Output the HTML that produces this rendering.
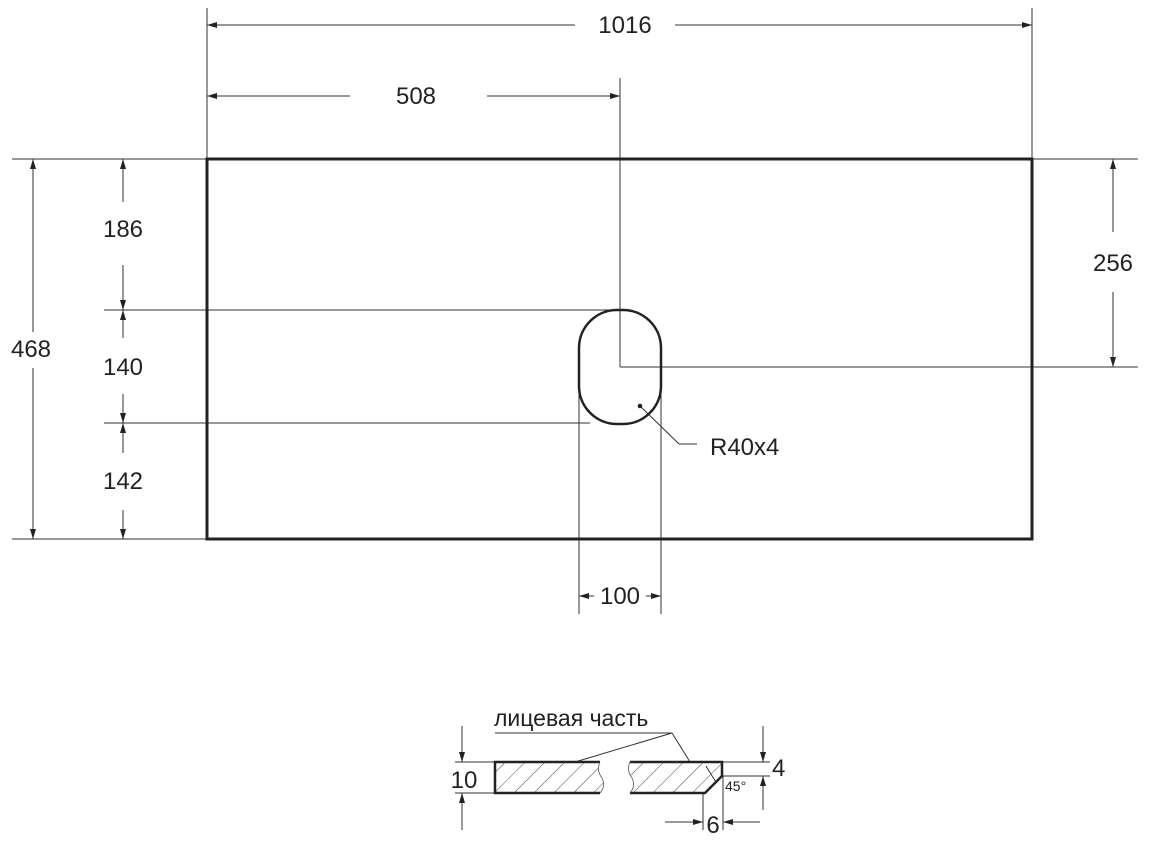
<!DOCTYPE html>
<html><head><meta charset="utf-8"><style>
html,body{margin:0;padding:0;background:#fff}
svg{display:block}
text{font-family:"Liberation Sans",sans-serif;fill:#222}
</style></head><body>
<svg width="1156" height="841" viewBox="0 0 1156 841" xmlns="http://www.w3.org/2000/svg">
<defs>
<marker id="a" viewBox="0 0 10 6" refX="10" refY="3" markerWidth="10" markerHeight="6" markerUnits="userSpaceOnUse" orient="auto-start-reverse"><path d="M0,0L10,3L0,6z" fill="#222"/></marker>
<pattern id="h" patternUnits="userSpaceOnUse" width="14" height="14" patternTransform="rotate(45)"><line x1="0" y1="0" x2="0" y2="14" stroke="#444" stroke-width="1"/></pattern>
</defs>
<g stroke="#333" stroke-width="1" fill="none">
<line x1="207" y1="8" x2="207" y2="159"/>
<line x1="1032" y1="8" x2="1032" y2="159"/>
<line x1="620" y1="78" x2="620" y2="367"/>
<line x1="620" y1="367" x2="1138" y2="367"/>
<line x1="1032" y1="159" x2="1138" y2="159"/>
<line x1="12" y1="159" x2="207" y2="159"/>
<line x1="12" y1="539" x2="207" y2="539"/>
<line x1="104" y1="310" x2="620" y2="310"/>
<line x1="104" y1="423" x2="590" y2="423"/>
<line x1="579" y1="380" x2="579" y2="614"/>
<line x1="661" y1="380" x2="661" y2="614"/>
<line x1="207" y1="25" x2="575" y2="25" marker-start="url(#a)"/>
<line x1="675" y1="25" x2="1032" y2="25" marker-end="url(#a)"/>
<line x1="207" y1="96" x2="350" y2="96" marker-start="url(#a)"/>
<line x1="487" y1="96" x2="620" y2="96" marker-end="url(#a)"/>
<line x1="33" y1="159" x2="33" y2="332" marker-start="url(#a)"/>
<line x1="33" y1="368" x2="33" y2="539" marker-end="url(#a)"/>
<line x1="123" y1="159" x2="123" y2="202" marker-start="url(#a)"/>
<line x1="123" y1="265" x2="123" y2="310" marker-end="url(#a)"/>
<line x1="123" y1="310" x2="123" y2="338" marker-start="url(#a)"/>
<line x1="123" y1="394" x2="123" y2="423" marker-end="url(#a)"/>
<line x1="123" y1="423" x2="123" y2="453" marker-start="url(#a)"/>
<line x1="123" y1="510" x2="123" y2="539" marker-end="url(#a)"/>
<line x1="1113" y1="159" x2="1113" y2="232" marker-start="url(#a)"/>
<line x1="1113" y1="292" x2="1113" y2="367" marker-end="url(#a)"/>
<line x1="579" y1="596" x2="594" y2="596" marker-start="url(#a)"/>
<line x1="646" y1="596" x2="661" y2="596" marker-end="url(#a)"/>
<polyline points="640,406 679,444 697,444"/>
</g>
<circle cx="640" cy="406" r="2.3" fill="#222"/>
<rect x="207" y="159" width="825" height="380" fill="none" stroke="#222" stroke-width="3"/>
<rect x="579" y="310" width="82" height="114" rx="38" ry="38" fill="none" stroke="#222" stroke-width="2.5"/>
<g font-size="24">
<text x="625" y="33" text-anchor="middle">1016</text>
<text x="416" y="104" text-anchor="middle">508</text>
<text x="31" y="357" text-anchor="middle">468</text>
<text x="123" y="237" text-anchor="middle">186</text>
<text x="123" y="375" text-anchor="middle">140</text>
<text x="123" y="489" text-anchor="middle">142</text>
<text x="1113" y="271" text-anchor="middle">256</text>
<text x="620" y="604" text-anchor="middle">100</text>
<text x="710" y="455">R40x4</text>
</g>
<g stroke="#333" stroke-width="1" fill="none">
<line x1="495" y1="733" x2="672" y2="733"/>
<line x1="672" y1="733" x2="575" y2="762"/>
<line x1="672" y1="733" x2="690" y2="762"/>
<line x1="455" y1="762" x2="495" y2="762"/>
<line x1="455" y1="793" x2="495" y2="793"/>
<line x1="462" y1="726" x2="462" y2="762" marker-end="url(#a)"/>
<line x1="462" y1="830" x2="462" y2="793" marker-end="url(#a)"/>
<line x1="722" y1="762" x2="770" y2="762"/>
<line x1="722" y1="776" x2="770" y2="776"/>
<line x1="763" y1="726" x2="763" y2="762" marker-end="url(#a)"/>
<line x1="763" y1="810" x2="763" y2="776" marker-end="url(#a)"/>
<line x1="703" y1="793" x2="703" y2="830"/>
<line x1="723" y1="776" x2="723" y2="830"/>
<line x1="665" y1="822" x2="703" y2="822" marker-end="url(#a)"/>
<line x1="760" y1="822" x2="723" y2="822" marker-end="url(#a)"/>
<path d="M706,766 Q712,776 716,782"/>
</g>
<path d="M495,762 H600 Q596,770 602,778 Q606,786 600,793 H495 Z" fill="url(#h)"/>
<path d="M630,762 H722 V776 L705,793 H630 Q636,786 632,778 Q626,770 630,762 Z" fill="url(#h)"/>
<g stroke="#222" stroke-width="2.5" fill="none">
<path d="M600,762 H495 V793 H600"/>
<path d="M630,762 H722 V776 L705,793 H630"/>
</g>
<g stroke="#555" stroke-width="0.8" fill="none">
<path d="M600,762 Q596,770 602,778 Q606,786 600,793"/>
<path d="M630,762 Q626,770 632,778 Q636,786 630,793"/>
</g>
<text x="494" y="726" font-size="23">лицевая часть</text>
<text x="464" y="788" font-size="24" text-anchor="middle">10</text>
<text x="772" y="776" font-size="24">4</text>
<text x="725" y="791" font-size="14">45°</text>
<text x="713" y="833" font-size="24" text-anchor="middle">6</text>
</svg>
</body></html>
